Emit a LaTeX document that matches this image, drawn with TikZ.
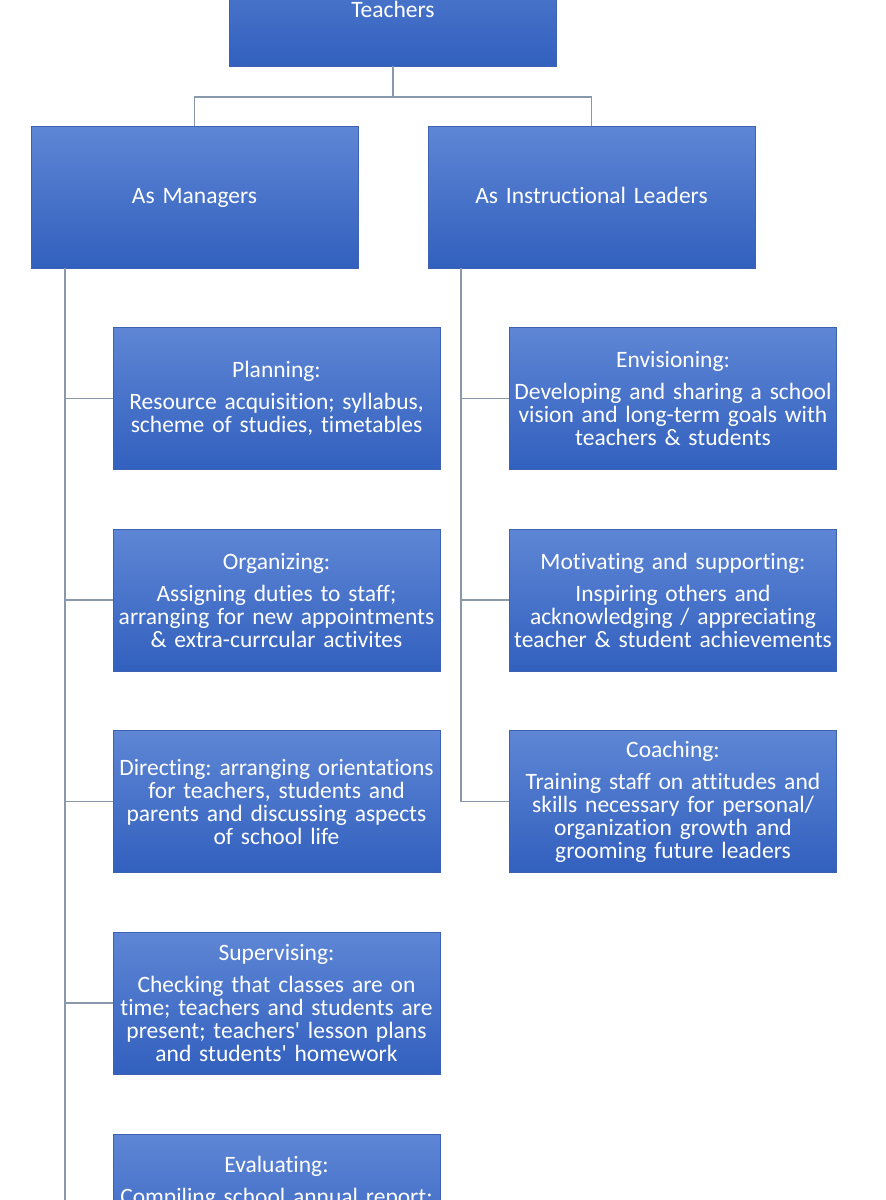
\documentclass[tikz,border=0pt]{standalone}
\usepackage{fontspec}
\setmainfont{Carlito}[Ligatures={NoCommon,NoRequired,NoContextual}]
\definecolor{boxtop}{RGB}{94,134,213}
\definecolor{boxbot}{RGB}{50,96,190}
\definecolor{boxedge}{RGB}{62,98,178}
\definecolor{linegray}{RGB}{138,152,172}
\newcommand{\sq}{\textquotesingle}
\begin{document}
\frenchspacing
\begin{tikzpicture}[x=1pt,y=-1pt,
  box/.style={draw=boxedge, line width=0.6pt, top color=boxtop, bottom color=boxbot,
    minimum width=327pt, minimum height=142pt, inner sep=0pt, text=white,
    align=center, text width=326pt, font=\fontsize{23.5}{23}\selectfont},
  topbox/.style={box, text depth=3pt},
  txt/.style={inner sep=0pt, text=white, align=center, text width=326pt,
    font=\fontsize{23.5}{23}\selectfont},
  conn/.style={draw=linegray, line width=1.6pt}]
\useasboundingbox (0,0) rectangle (886,1200);
\clip (0,0) rectangle (886,1200);
\fill[white] (0,0) rectangle (886,1200);

% top level
\node[box] (teach) at (393,-5) {\strut\\[4pt]Teachers};
\node[topbox] (mgr) at (194.5,197) {As Managers};
\node[topbox] (instr) at (591.5,197) {As Instructional Leaders};

% left column
\node[box] (plan) at (276.5,398.5) {Planning:\\[9pt]Resource acquisition; syllabus,\\scheme of studies, timetables};
\node[box] (org) at (276.5,600) {Organizing:\\[9pt]Assigning duties to staff;\\arranging for new appointments\\\& extra-currcular activites};
\node[box] (dir) at (276.5,801.5) {Directing: arranging orientations\\for teachers, students and\\parents and discussing aspects\\of school life};
\node[box] (sup) at (276.5,1003) {Supervising:\\[9pt]Checking that classes are on\\time; teachers and students are\\present; teachers\sq{} lesson plans\\and students\sq{} homework};
\node[box, anchor=north] (eval) at (276.5,1134) {};
\node[txt, anchor=north] (evaltxt) at ([yshift=-22pt]eval.north) {Evaluating:\\[9pt]Compiling school annual report;};

% right column
\node[box] (env) at (673,398.5) {Envisioning:\\[9pt]Developing and sharing a school\\vision and long-term goals with\\teachers \& students};
\node[box] (mot) at (673,600) {Motivating and supporting:\\[9pt]Inspiring others and\\acknowledging / appreciating\\teacher \& student achievements};
\node[box] (coach) at (673,801.5) {Coaching:\\[9pt]Training staff on attitudes and\\skills necessary for personal/\\organization growth and\\grooming future leaders};

% connectors
\coordinate (tj) at (393,97);
\draw[conn] (teach.south) -- (tj) -| (mgr.north);
\draw[conn] (tj) -| (instr.north);

\coordinate (lx) at (65,1215);
\draw[conn] (mgr.south -| lx) -- (lx);
\foreach \n in {plan,org,dir,sup}{
  \draw[conn] (\n.west -| lx) -- (\n.west);
}
\coordinate (rx) at (461,0);
\draw[conn] (instr.south -| rx) -- (coach.west -| rx) -- (coach.west);
\foreach \n in {env,mot}{
  \draw[conn] (\n.west -| rx) -- (\n.west);
}
\end{tikzpicture}
\end{document}
